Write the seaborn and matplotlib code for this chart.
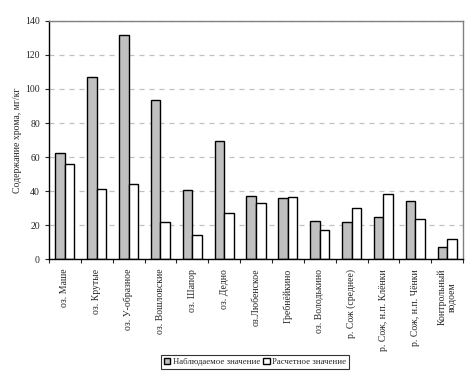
import pandas as pd
import numpy as np
import matplotlib.pyplot as plt
import seaborn as sns

sns.set_style('white')
plt.rcParams['font.family'] = ['Liberation Serif', 'DejaVu Serif']

sites = ['оз. Маше', 'оз. Крутые', 'оз. У-образное', 'оз. Вошловские', 'оз. Шапор',
         'оз. Дедно', 'оз.Любенское', 'Гребнёйкино', 'оз. Володькино',
         'р. Сож (среднее)', 'р. Сож, н.п. Клёнки', 'р. Сож, н.п. Чёнки',
         'Контрольный\nводоем']
observed = [62.2, 106.9, 131.6, 93.3, 40.4, 69.2, 36.9, 36.1, 22.2, 21.6, 24.5, 33.9, 6.9]
predicted = [55.7, 41.0, 44.1, 21.6, 13.9, 27.0, 32.7, 36.3, 16.9, 29.8, 38.0, 23.3, 11.6]
series = ['Наблюдаемое значение', 'Расчетное значение']

df = pd.DataFrame({
    'site': sites * 2,
    'value': observed + predicted,
    'series': [series[0]] * len(sites) + [series[1]] * len(sites),
})

fig = plt.figure(figsize=(4.75, 3.81), dpi=100)
ax = fig.add_axes([0.103, 0.32, 0.872, 0.625])

sns.barplot(data=df, x='site', y='value', hue='series', order=sites,
            palette=['#c0c0c0', 'white'], edgecolor='black', linewidth=1,
            width=0.6, ax=ax)

ax.set_ylim(0, 140)
ax.set_xlim(-0.5, len(sites) - 0.5)
ax.set_yticks(range(0, 141, 20))
ax.yaxis.grid(True, linestyle=(0, (4, 4)), color='#c0c0c0', linewidth=0.9)
ax.set_axisbelow(True)

ax.set_xlabel('')
ax.set_ylabel('Содержание хрома, мг/кг', fontsize=7, labelpad=2)
ax.tick_params(axis='y', labelsize=7, length=3, direction='out', left=True, width=0.8)
ax.tick_params(axis='x', which='major', length=0, labelsize=7, pad=7)
ax.set_xticks(np.arange(-0.5, len(sites), 1), minor=True)
ax.tick_params(axis='x', which='minor', length=3, direction='out', bottom=True, width=0.8)
ax.set_xticks(range(len(sites)))
ax.set_xticklabels(sites, rotation=90, va='top', ha='center', multialignment='center')

for side in ['left', 'bottom']:
    ax.spines[side].set_color('black')
    ax.spines[side].set_linewidth(1)
for side in ['top', 'right']:
    ax.spines[side].set_color('#808080')
    ax.spines[side].set_linewidth(1)

leg = ax.legend(loc='center', bbox_to_anchor=(0.537, 0.05), bbox_transform=fig.transFigure,
                ncol=2, fontsize=6.3, frameon=True, fancybox=False, handlelength=0.7,
                handleheight=0.7, handletextpad=0.3, columnspacing=0.4, borderpad=0.35)
leg.get_frame().set_edgecolor('black')
leg.get_frame().set_linewidth(0.8)

fig.savefig('out.png', dpi=100)
plt.close(fig)
